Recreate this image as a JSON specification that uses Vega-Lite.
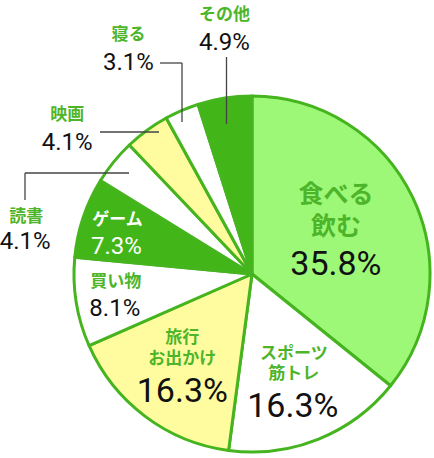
{
  "$schema": "https://vega.github.io/schema/vega-lite/v6.json",
  "width": 360,
  "height": 360,
  "autosize": {"type": "none"},
  "padding": {"left": 72, "top": 94, "right": 2, "bottom": 4},
  "background": "#ffffff",
  "config": {"view": {"stroke": null}},
  "datasets": {
    "slices": [
      {"order": 1, "category": "食べる飲む", "name": "食べる\n飲む", "share": 0.358},
      {"order": 2, "category": "スポーツ筋トレ", "name": "スポーツ\n筋トレ", "share": 0.163},
      {"order": 3, "category": "旅行お出かけ", "name": "旅行\nお出かけ", "share": 0.163},
      {"order": 4, "category": "買い物", "name": "買い物", "share": 0.081},
      {"order": 5, "category": "ゲーム", "name": "ゲーム", "share": 0.073},
      {"order": 6, "category": "読書", "name": "読書", "share": 0.041},
      {"order": 7, "category": "映画", "name": "映画", "share": 0.041},
      {"order": 8, "category": "寝る", "name": "寝る", "share": 0.031},
      {"order": 9, "category": "その他", "name": "その他", "share": 0.049}
    ],
    "leaders": [
      {"label": "読書", "x": -123, "y": 101, "x2": -227, "y2": 101},
      {"label": "読書", "x": -227, "y": 101, "x2": -227, "y2": 74},
      {"label": "映画", "x": -152, "y": 142, "x2": -93, "y2": 142},
      {"label": "寝る", "x": -92, "y": 211, "x2": -70, "y2": 211},
      {"label": "寝る", "x": -70, "y": 211, "x2": -70, "y2": 152},
      {"label": "その他", "x": -25.5, "y": 217, "x2": -25.5, "y2": 150}
    ]
  },
  "layer": [
    {
      "data": {"name": "slices"},
      "encoding": {
        "theta": {"field": "share", "type": "quantitative", "stack": true},
        "order": {"field": "order", "type": "quantitative"}
      },
      "layer": [
        {
          "mark": {"type": "arc", "radius": 178, "stroke": "#45b41f", "strokeWidth": 3, "strokeJoin": "round"},
          "encoding": {
            "color": {
              "field": "category",
              "type": "nominal",
              "legend": null,
              "scale": {
                "domain": ["食べる飲む", "スポーツ筋トレ", "旅行お出かけ", "買い物", "ゲーム", "読書", "映画", "寝る", "その他"],
                "range": ["#9ef878", "#ffffff", "#fffc9f", "#ffffff", "#42b618", "#ffffff", "#fffc9f", "#ffffff", "#42b618"]
              }
            }
          }
        },
        {
          "mark": {"type": "text", "radius": 93, "dx": 0, "dy": -39, "font": "Noto Sans CJK JP", "fontSize": 25, "fontWeight": "bold", "color": "#4db52a", "lineBreak": "\n", "lineHeight": 32, "align": "center", "baseline": "middle"},
          "encoding": {"text": {"condition": {"test": "datum.category === '食べる飲む'", "field": "name"}, "value": ""}}
        },
        {
          "mark": {"type": "text", "radius": 110, "dx": 1, "dy": -22, "font": "Noto Sans CJK JP", "fontSize": 17, "fontWeight": "bold", "color": "#4db52a", "lineBreak": "\n", "lineHeight": 20, "align": "center", "baseline": "middle"},
          "encoding": {"text": {"condition": {"test": "datum.category === 'スポーツ筋トレ'", "field": "name"}, "value": ""}}
        },
        {
          "mark": {"type": "text", "radius": 116, "dx": 0, "dy": -28.5, "font": "Noto Sans CJK JP", "fontSize": 17, "fontWeight": "bold", "color": "#4db52a", "lineBreak": "\n", "lineHeight": 21, "align": "center", "baseline": "middle"},
          "encoding": {"text": {"condition": {"test": "datum.category === '旅行お出かけ'", "field": "name"}, "value": ""}}
        },
        {
          "mark": {"type": "text", "radius": 138, "dx": 0, "dy": -14, "font": "Noto Sans CJK JP", "fontSize": 17, "fontWeight": "bold", "color": "#4db52a", "align": "center", "baseline": "middle"},
          "encoding": {"text": {"condition": {"test": "datum.category === '買い物'", "field": "name"}, "value": ""}}
        },
        {
          "mark": {"type": "text", "radius": 143, "dx": 1, "dy": -8.5, "font": "Noto Sans CJK JP", "fontSize": 17, "fontWeight": "bold", "color": "#ffffff", "align": "center", "baseline": "middle"},
          "encoding": {"text": {"condition": {"test": "datum.category === 'ゲーム'", "field": "name"}, "value": ""}}
        },
        {
          "mark": {"type": "text", "radius": 211, "dx": -62, "dy": 76, "font": "Noto Sans CJK JP", "fontSize": 17, "fontWeight": "bold", "color": "#4db52a", "align": "center", "baseline": "middle"},
          "encoding": {"text": {"condition": {"test": "datum.category === '読書'", "field": "name"}, "value": ""}}
        },
        {
          "mark": {"type": "text", "radius": 230, "dx": -49, "dy": 27, "font": "Noto Sans CJK JP", "fontSize": 17, "fontWeight": "bold", "color": "#4db52a", "align": "center", "baseline": "middle"},
          "encoding": {"text": {"condition": {"test": "datum.category === '映画'", "field": "name"}, "value": ""}}
        },
        {
          "mark": {"type": "text", "radius": 240, "dx": -29, "dy": -18, "font": "Noto Sans CJK JP", "fontSize": 17, "fontWeight": "bold", "color": "#4db52a", "align": "center", "baseline": "middle"},
          "encoding": {"text": {"condition": {"test": "datum.category === '寝る'", "field": "name"}, "value": ""}}
        },
        {
          "mark": {"type": "text", "radius": 245, "dx": 10, "dy": -17, "font": "Noto Sans CJK JP", "fontSize": 17, "fontWeight": "bold", "color": "#4db52a", "align": "center", "baseline": "middle"},
          "encoding": {"text": {"condition": {"test": "datum.category === 'その他'", "field": "name"}, "value": ""}}
        },
        {
          "mark": {"type": "text", "radius": 93, "dx": 0, "dy": 31, "font": "Roboto", "fontSize": 34, "color": "#111111", "align": "center", "baseline": "middle"},
          "encoding": {"text": {"condition": {"test": "datum.category === '食べる飲む'", "field": "share", "type": "quantitative", "format": ".1%"}, "value": ""}}
        },
        {
          "mark": {"type": "text", "radius": 110, "dx": 0, "dy": 31, "font": "Roboto", "fontSize": 34, "color": "#111111", "align": "center", "baseline": "middle"},
          "encoding": {"text": {"condition": {"test": "datum.category === 'スポーツ筋トレ'", "field": "share", "type": "quantitative", "format": ".1%"}, "value": ""}}
        },
        {
          "mark": {"type": "text", "radius": 116, "dx": 0, "dy": 25, "font": "Roboto", "fontSize": 34, "color": "#111111", "align": "center", "baseline": "middle"},
          "encoding": {"text": {"condition": {"test": "datum.category === '旅行お出かけ'", "field": "share", "type": "quantitative", "format": ".1%"}, "value": ""}}
        },
        {
          "mark": {"type": "text", "radius": 138, "dx": -1, "dy": 13, "font": "Roboto", "fontSize": 24, "color": "#111111", "align": "center", "baseline": "middle"},
          "encoding": {"text": {"condition": {"test": "datum.category === '買い物'", "field": "share", "type": "quantitative", "format": ".1%"}, "value": ""}}
        },
        {
          "mark": {"type": "text", "radius": 143, "dx": 0, "dy": 18.5, "font": "Roboto", "fontSize": 24, "color": "#ffffff", "align": "center", "baseline": "middle"},
          "encoding": {"text": {"condition": {"test": "datum.category === 'ゲーム'", "field": "share", "type": "quantitative", "format": ".1%"}, "value": ""}}
        },
        {
          "mark": {"type": "text", "radius": 211, "dx": -63, "dy": 101, "font": "Roboto", "fontSize": 24, "color": "#111111", "align": "center", "baseline": "middle"},
          "encoding": {"text": {"condition": {"test": "datum.category === '読書'", "field": "share", "type": "quantitative", "format": ".1%"}, "value": ""}}
        },
        {
          "mark": {"type": "text", "radius": 230, "dx": -49, "dy": 55, "font": "Roboto", "fontSize": 24, "color": "#111111", "align": "center", "baseline": "middle"},
          "encoding": {"text": {"condition": {"test": "datum.category === '映画'", "field": "share", "type": "quantitative", "format": ".1%"}, "value": ""}}
        },
        {
          "mark": {"type": "text", "radius": 240, "dx": -29, "dy": 10, "font": "Roboto", "fontSize": 24, "color": "#111111", "align": "center", "baseline": "middle"},
          "encoding": {"text": {"condition": {"test": "datum.category === '寝る'", "field": "share", "type": "quantitative", "format": ".1%"}, "value": ""}}
        },
        {
          "mark": {"type": "text", "radius": 245, "dx": 10, "dy": 11, "font": "Roboto", "fontSize": 24, "color": "#111111", "align": "center", "baseline": "middle"},
          "encoding": {"text": {"condition": {"test": "datum.category === 'その他'", "field": "share", "type": "quantitative", "format": ".1%"}, "value": ""}}
        }
      ]
    },
    {
      "data": {"name": "leaders"},
      "mark": {"type": "rule", "color": "#444444", "strokeWidth": 1.3},
      "encoding": {
        "x": {"field": "x", "type": "quantitative", "axis": null, "scale": {"domain": [-180, 180], "nice": false, "zero": false}},
        "y": {"field": "y", "type": "quantitative", "axis": null, "scale": {"domain": [-180, 180], "nice": false, "zero": false}},
        "x2": {"field": "x2"},
        "y2": {"field": "y2"}
      }
    }
  ]
}
